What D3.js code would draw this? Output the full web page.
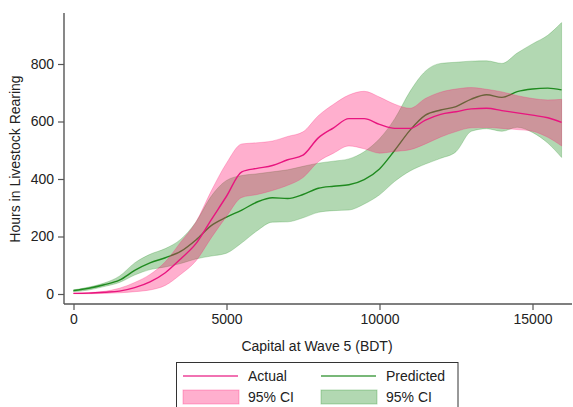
<!DOCTYPE html>
<html lang="en">
<head>
<meta charset="utf-8" />
<title>Hours in Livestock Rearing</title>
<script src="https://cdn.jsdelivr.net/npm/d3@7"></script>
<style>
  body { margin:0; background:#fff; font-family:"Liberation Sans", Arial, Helvetica, sans-serif; }
  svg text { fill:#222; }
</style>
</head>
<body>
<div id="chart"></div>
<script>
// --- data ----------------------------------------------------------------
const capital = [0,500,1000,1500,2000,2500,3000,3500,4000,4500,5000,5500,6000,6500,7000,7500,
  8000,8500,9000,9500,10000,10500,11000,11500,12000,12500,13000,13500,14000,14500,15000,15500,15950];

const actual = [2,3,6,10,22,42,74,122,175,258,340,425,437,447,467,483,
  543,578,610,610,590,576,576,605,625,634,644,646,638,630,622,613,597];
const actualHi = [3,5,9,20,40,68,112,180,250,358,455,522,526,532,548,564,
  620,660,692,705,685,660,646,680,702,713,718,712,703,690,680,675,677];
const actualLo = [1,1,2,4,8,14,30,68,115,195,270,336,346,360,378,405,
  460,490,515,505,490,496,502,522,546,565,578,579,576,572,566,545,515];

const predicted = [12,20,32,48,82,108,126,148,188,238,267,292,320,335,332,346,
  368,375,380,398,435,500,570,622,640,652,678,693,684,704,713,716,710];
const predictedHi = [14,24,38,62,108,138,158,190,250,340,395,412,418,425,432,444,
  455,462,470,495,540,610,705,775,802,806,810,811,802,838,870,900,944];
const predictedLo = [8,14,26,40,66,85,94,106,122,132,142,178,220,250,251,265,
  284,290,292,313,345,392,428,452,472,495,566,575,566,580,562,525,475];

const xTicks = [0,5000,10000,15000];
const yTicks = [0,200,400,600,800];

const pinkLine = "#e8157f", pinkFill = "rgba(255,20,112,0.34)";
const greenLine = "#1f8a1f", greenFill = "rgba(30,140,30,0.34)";

// --- chart ----------------------------------------------------------------
const W = 573, H = 407;
const svg = d3.select("#chart").append("svg").attr("width", W).attr("height", H);

const x = d3.scaleLinear().domain([0, 15000]).range([73.5, 532.5]);
const y = d3.scaleLinear().domain([0, 800]).range([294, 64]);
const axisY0 = 304, axisX0 = 64;

const rows = capital.map((c, i) => ({
  c, a: actual[i], aHi: actualHi[i], aLo: actualLo[i],
  p: predicted[i], pHi: predictedHi[i], pLo: predictedLo[i]
}));

const band = (hi, lo) => d3.area().curve(d3.curveMonotoneX)
  .x(d => x(d.c)).y0(d => y(d[lo])).y1(d => y(d[hi]));
const line = key => d3.line().curve(d3.curveMonotoneX)
  .x(d => x(d.c)).y(d => y(d[key]));

// green first, then pink on top (as in the original)
svg.append("path").datum(rows).attr("d", band("pHi", "pLo"))
  .attr("fill", greenFill).attr("stroke", "rgba(30,140,30,0.25)").attr("stroke-width", 1);
svg.append("path").datum(rows).attr("d", line("p"))
  .attr("fill", "none").attr("stroke", greenLine).attr("stroke-width", 1.4);
svg.append("path").datum(rows).attr("d", band("aHi", "aLo"))
  .attr("fill", pinkFill).attr("stroke", "rgba(255,20,112,0.25)").attr("stroke-width", 1);
svg.append("path").datum(rows).attr("d", line("a"))
  .attr("fill", "none").attr("stroke", pinkLine).attr("stroke-width", 1.4);

// axes
const xAxis = svg.append("g").attr("transform", `translate(0,${axisY0})`)
  .call(d3.axisBottom(x).tickValues(xTicks).tickFormat(d3.format("d")).tickSize(6).tickPadding(4));
const yAxis = svg.append("g").attr("transform", `translate(${axisX0},0)`)
  .call(d3.axisLeft(y).tickValues(yTicks).tickFormat(d3.format("d")).tickSize(6).tickPadding(4));

[xAxis, yAxis].forEach(g => {
  g.select(".domain").remove();
  g.selectAll("line").attr("stroke", "#555").attr("stroke-width", 1.2);
  g.selectAll("text").attr("font-size", 14).attr("fill", "#222")
    .attr("font-family", "'Liberation Sans', Arial, sans-serif");
});

svg.append("line").attr("x1", axisX0).attr("x2", 572).attr("y1", axisY0).attr("y2", axisY0)
  .attr("stroke", "#555").attr("stroke-width", 1.4);
svg.append("line").attr("x1", axisX0).attr("x2", axisX0).attr("y1", 13).attr("y2", axisY0)
  .attr("stroke", "#555").attr("stroke-width", 1.4);

// titles
svg.append("text").attr("x", 317).attr("y", 351).attr("text-anchor", "middle")
  .attr("font-size", 14).text("Capital at Wave 5 (BDT)");
svg.append("text").attr("transform", "translate(20,159) rotate(-90)")
  .attr("text-anchor", "middle").attr("font-size", 14).text("Hours in Livestock Rearing");

// legend
const lg = svg.append("g");
lg.append("rect").attr("x", 176.5).attr("y", 362.5).attr("width", 281.5).attr("height", 60)
  .attr("fill", "#fff").attr("stroke", "#333").attr("stroke-width", 1);

const legendItems = [
  {kind: "line", col: pinkLine, lx: 183, label: "Actual", row: 0},
  {kind: "line", col: greenLine, lx: 321, label: "Predicted", row: 0},
  {kind: "area", col: pinkFill, edge: "rgba(255,20,112,0.3)", lx: 183, label: "95% CI", row: 1},
  {kind: "area", col: greenFill, edge: "rgba(30,140,30,0.3)", lx: 321, label: "95% CI", row: 1}
];
legendItems.forEach(d => {
  const cy = d.row === 0 ? 376 : 397;
  if (d.kind === "line") {
    lg.append("line").attr("x1", d.lx).attr("x2", d.lx + 55).attr("y1", cy).attr("y2", cy)
      .attr("stroke", d.col).attr("stroke-width", 1.6).attr("opacity", 0.8);
  } else {
    lg.append("rect").attr("x", d.lx).attr("y", cy - 7).attr("width", 56).attr("height", 14)
      .attr("fill", d.col).attr("stroke", d.edge);
  }
  lg.append("text").attr("x", d.lx + 65).attr("y", cy + 5).attr("font-size", 14).text(d.label);
});
</script>
</body>
</html>
